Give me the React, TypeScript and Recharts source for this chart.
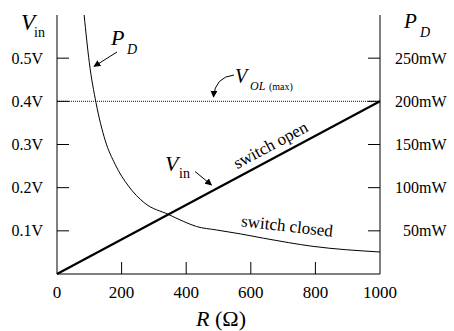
import { LineChart, Line, XAxis, YAxis, ReferenceLine } from 'recharts'

// resistance axis
const rTicks = [0, 200, 400, 600, 800, 1000]

// V_in (switch open) - straight line
const vinR = [0, 1000]
const vinVolts = [0, 0.4]

// P_D (switch closed)
const pdR = [84, 100, 121, 149, 180, 221, 272, 345, 391, 432, 494, 567, 639, 793, 1000]
const pdMilliwatts = [300, 245, 198, 155, 127, 102, 82, 69, 61, 55, 51, 46.5, 41.5, 32, 25.5]

const vTicks = [0.1, 0.2, 0.3, 0.4, 0.5]
const pTicks = [50, 100, 150, 200, 250]
const vOL = 0.4

const vinData = vinR.map((r, i) => ({ r, v: vinVolts[i] }))
const pdData = pdR.map((r, i) => ({ r, p: pdMilliwatts[i] }))

const FONT = '"Liberation Serif", "Times New Roman", Times, serif'
const W = 454
const H = 331

const LeftTick = (props: any) => {
  const { x, y, payload } = props
  return (
    <g>
      <line x1={x} x2={x + 12} y1={y} y2={y} stroke="#000" />
      <text x={x - 14} y={y} dy="0.35em" textAnchor="end" style={{ fontSize: 16, fontFamily: FONT }} fill="#000">
        {payload.value}V
      </text>
    </g>
  )
}

const RightTick = (props: any) => {
  const { x, y, payload } = props
  return (
    <g>
      <line x1={x - 12} x2={x} y1={y} y2={y} stroke="#000" />
      <text x={x + 66.5} y={y} dy="0.35em" textAnchor="end" style={{ fontSize: 16, fontFamily: FONT }} fill="#000">
        {payload.value}mW
      </text>
    </g>
  )
}

const BottomTick = (props: any) => {
  const { x, y, payload } = props
  const edge = payload.value === 0 || payload.value === 1000
  return (
    <g>
      {!edge && <line x1={x} x2={x} y1={y} y2={y - 12} stroke="#000" />}
      <text x={x} y={y + 24} textAnchor="middle" style={{ fontSize: 17, fontFamily: FONT }} fill="#000">
        {payload.value}
      </text>
    </g>
  )
}

export default function App() {
  return (
    <div style={{ position: 'absolute', left: 0, top: 0, width: W, height: H, background: '#fff', fontFamily: FONT }}>
      <LineChart width={W} height={H} margin={{ top: 15, right: 0, bottom: 0, left: 0 }}>
        <XAxis
          dataKey="r"
          type="number"
          domain={[0, 1000]}
          ticks={rTicks}
          interval={0}
          height={57}
          tickSize={0}
          tickMargin={0}
          tick={<BottomTick />}
          axisLine={{ stroke: '#000' }}
          allowDuplicatedCategory={false}
        />
        <YAxis
          yAxisId="v"
          orientation="left"
          domain={[0, 0.6]}
          ticks={vTicks}
          interval={0}
          width={57}
          tickSize={0}
          tickMargin={0}
          tick={<LeftTick />}
          axisLine={{ stroke: '#000' }}
        />
        <YAxis
          yAxisId="p"
          orientation="right"
          domain={[0, 300]}
          ticks={pTicks}
          interval={0}
          width={74}
          tickSize={0}
          tickMargin={0}
          tick={<RightTick />}
          axisLine={{ stroke: '#000' }}
        />
        <ReferenceLine yAxisId="v" y={vOL} stroke="#444" strokeWidth={1.2} strokeDasharray="1 1" />
        <Line
          yAxisId="v"
          data={vinData}
          dataKey="v"
          type="linear"
          stroke="#000"
          strokeWidth={2.2}
          dot={false}
          isAnimationActive={false}
        />
        <Line
          yAxisId="p"
          data={pdData}
          dataKey="p"
          type="monotone"
          stroke="#000"
          strokeWidth={1}
          dot={false}
          isAnimationActive={false}
        />
      </LineChart>

      {/* labels and arrows */}
      <svg
        width={W}
        height={H}
        style={{ position: 'absolute', left: 0, top: 0, pointerEvents: 'none', fontFamily: FONT }}
      >
        <defs>
          <marker id="head" viewBox="0 0 10 10" refX="9" refY="5" markerWidth="7" markerHeight="7" orient="auto">
            <path d="M0,0 L10,5 L0,10 z" fill="#000" />
          </marker>
        </defs>

        {/* left axis title */}
        <text x={21} y={30} fontSize={23} fontStyle="italic">V</text>
        <text x={34} y={37} fontSize={14}>in</text>

        {/* right axis title */}
        <text x={404} y={28} fontSize={21} fontStyle="italic">P</text>
        <text x={420} y={37} fontSize={14} fontStyle="italic">D</text>

        {/* x axis title */}
        <text x={221} y={326} fontSize={22} textAnchor="middle">
          <tspan fontStyle="italic">R</tspan> (Ω)
        </text>

        {/* P_D callout */}
        <text x={111} y={45} fontSize={22} fontStyle="italic">P</text>
        <text x={127} y={54} fontSize={14} fontStyle="italic">D</text>
        <line x1={117} y1={52} x2={94} y2={66.5} stroke="#000" strokeWidth={1} markerEnd="url(#head)" />

        {/* V_OL callout */}
        <text x={235} y={83} fontSize={20} fontStyle="italic">V</text>
        <text x={250} y={90} fontSize={12} fontStyle="italic">OL</text>
        <text x={269} y={90} fontSize={10}>(max)</text>
        <path d="M234,75 Q215,77 213.5,97" fill="none" stroke="#000" strokeWidth={1} markerEnd="url(#head)" />

        {/* V_in callout */}
        <text x={165} y={171} fontSize={22} fontStyle="italic">V</text>
        <text x={179} y={178} fontSize={14}>in</text>
        <line x1={195} y1={171.5} x2={211.5} y2={185} stroke="#000" strokeWidth={1} markerEnd="url(#head)" />

        {/* curve captions */}
        <g transform="translate(277,157) rotate(-28.2)">
          <text x={0} y={-8} fontSize={17} textAnchor="middle">switch open</text>
        </g>
        <g transform="translate(286.5,231.5) rotate(6.5)">
          <text x={0} y={0} fontSize={17} textAnchor="middle">switch closed</text>
        </g>
      </svg>
    </div>
  )
}
